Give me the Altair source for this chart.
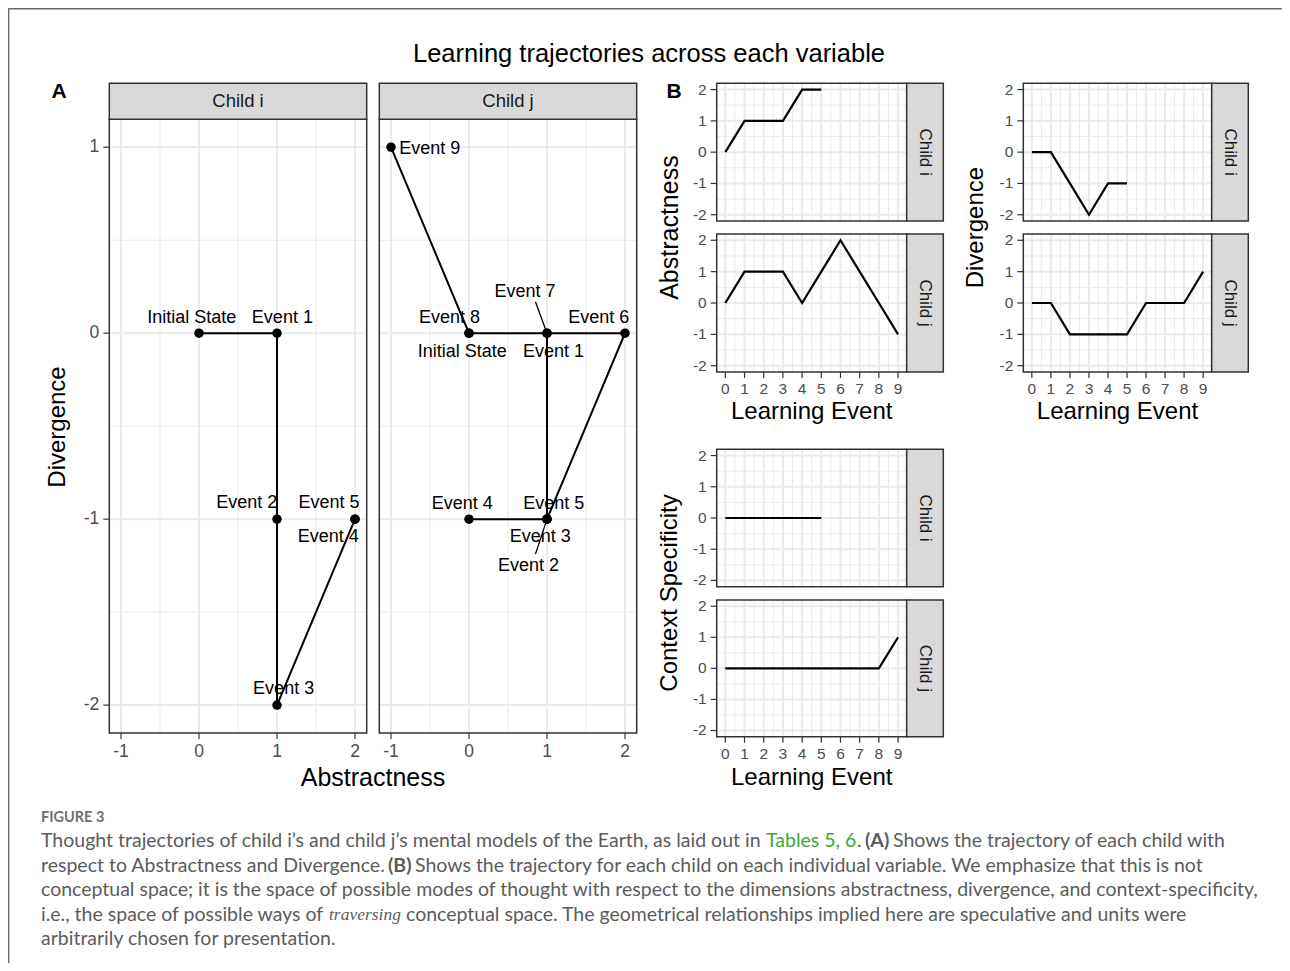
import altair as alt
import pandas as pd

# ------------------------------------------------------------------ data
events_i = ["Initial State", "Event 1", "Event 2", "Event 3", "Event 4", "Event 5"]
events_j = ["Initial State", "Event 1", "Event 2", "Event 3", "Event 4",
            "Event 5", "Event 6", "Event 7", "Event 8", "Event 9"]
steps_i = [0, 1, 2, 3, 4, 5]
steps_j = [0, 1, 2, 3, 4, 5, 6, 7, 8, 9]
abstractness_i = [0, 1, 1, 1, 2, 2]
divergence_i = [0, 0, -1, -2, -1, -1]
context_i = [0, 0, 0, 0, 0, 0]
abstractness_j = [0, 1, 1, 1, 0, 1, 2, 1, 0, -1]
divergence_j = [0, 0, -1, -1, -1, -1, 0, 0, 0, 1]
context_j = [0, 0, 0, 0, 0, 0, 0, 0, 0, 1]

# repelled label anchors (data units)
label_x_i = [-0.093, 1.069, 0.613, 1.085, 1.657, 1.666]
label_y_i = [0.080, 0.080, -0.911, -1.915, -1.098, -0.911]
label_x_j = [-0.087, 1.083, 0.762, 0.913, -0.086, 1.086, 1.664, 0.719, -0.249, -0.502]
label_y_j = [-0.099, -0.099, -1.250, -1.098, -0.916, -0.916, 0.084, 0.220, 0.084, 0.991]
# leader segments of child j (from the event point to its label)
leader_events = ["Event 2", "Event 7"]
leader_x_end = [0.852, 0.852]
leader_y_end = [-1.188, 0.169]

a_x_ticks = [-1, 0, 1, 2]
a_y_ticks = [-2, -1, 0, 1]
a_x_minor = [-0.5, 0.5, 1.5]
a_y_minor = [-1.5, -0.5, 0.5]
b_x_ticks = [0, 1, 2, 3, 4, 5, 6, 7, 8, 9]
b_y_ticks = [-2, -1, 0, 1, 2]
b_x_minor = [0.5, 1.5, 2.5, 3.5, 4.5, 5.5, 6.5, 7.5, 8.5]
b_y_minor = [-1.5, -0.5, 0.5, 1.5]

title_text = "Learning trajectories across each variable"
a_x_title = "Abstractness"
a_y_title = "Divergence"
b_x_title = "Learning Event"
b_y_titles = ["Abstractness", "Divergence", "Context Specificity"]
figure_label = "FIGURE 3"
caption_segments = [
    ["Thought trajectories of child i\u2019s and child j\u2019s mental models of the Earth, as laid out in",
     "Tables 5, 6", ".", "(A)", "Shows the trajectory of each child with"],
    ["respect to Abstractness and Divergence.", "(B)",
     "Shows the trajectory for each child on each individual variable. We emphasize that this is not"],
    ["conceptual space; it is the space of possible modes of thought with respect to the dimensions abstractness, divergence, and context-specificity,"],
    ["i.e., the space of possible ways of", "traversing",
     "conceptual space. The geometrical relationships implied here are speculative and units were"],
    ["arbitrarily chosen for presentation."],
]
caption_styles = [
    ["plain", "green", "plain", "bold", "plain"],
    ["plain", "bold", "plain"],
    ["plain"],
    ["plain", "italic", "plain"],
    ["plain"],
]

# ------------------------------------------------------------------ layout / style
W, H = 1274, 955
FONT = "Liberation Sans"
CAPFONT = "Lato"
GRID = "#EBEBEB"
BORDER = "#333333"
TICKC = "#333333"
LABC = "#4D4D4D"
STRIP = "#D9D9D9"
TICK = 6
LPAD = 4

A_XDOM = [-1.15, 2.15]
A_YDOM = [-2.15, 1.15]
A_YR = [725, 111.3]
A_STRIP_Y = [75.3, 111.3]
B_XDOM = [-0.45, 9.45]
B_YDOM = [-2.2, 2.2]

caption_x = [[33, 758, 849, 857, 885], [33, 380, 407], [33], [33, 321, 398], [33]]
caption_y = [833, 857.5, 882, 906.5, 931]


def xd(v, xs):
    return alt.XDatum(v, scale=xs, axis=None, type="quantitative")


def yd(v, ys):
    return alt.YDatum(v, scale=ys, axis=None, type="quantitative")


def grid_layers(xs, ys, xdom, ydom, xmaj, xmin, ymaj, ymin):
    out = []
    for vals, w in ((xmin, 1), (xmaj, 2)):
        out.append(alt.Chart(pd.DataFrame({"v": vals})).mark_rule(color=GRID, strokeWidth=w).encode(
            x=alt.X("v:Q", scale=xs, axis=None),
            y=yd(ydom[0], ys), y2=alt.Y2Datum(ydom[1])))
    for vals, w in ((ymin, 1), (ymaj, 2)):
        out.append(alt.Chart(pd.DataFrame({"v": vals})).mark_rule(color=GRID, strokeWidth=w).encode(
            y=alt.Y("v:Q", scale=ys, axis=None),
            x=xd(xdom[0], xs), x2=alt.X2Datum(xdom[1])))
    return out


def x_axis_layers(xs, ticks, bottom, fs):
    d = pd.DataFrame({"v": ticks, "lab": [str(t) for t in ticks]})
    return [
        alt.Chart(d).mark_rule(color=TICKC, strokeWidth=1.2).encode(
            x=alt.X("v:Q", scale=xs, axis=None),
            y=alt.value(bottom), y2=alt.value(bottom + TICK)),
        alt.Chart(d).mark_text(font=FONT, fontSize=fs, color=LABC, baseline="top").encode(
            x=alt.X("v:Q", scale=xs, axis=None),
            y=alt.value(bottom + TICK + LPAD), text="lab:N"),
    ]


def y_axis_layers(ys, ticks, left, fs):
    d = pd.DataFrame({"v": ticks, "lab": [str(t) for t in ticks]})
    return [
        alt.Chart(d).mark_rule(color=TICKC, strokeWidth=1.2).encode(
            y=alt.Y("v:Q", scale=ys, axis=None),
            x=alt.value(left - TICK), x2=alt.value(left)),
        alt.Chart(d).mark_text(font=FONT, fontSize=fs, color=LABC, align="right", baseline="middle").encode(
            y=alt.Y("v:Q", scale=ys, axis=None),
            x=alt.value(left - TICK - LPAD), text="lab:N"),
    ]


def border_layer(xs, ys, xdom, ydom):
    return alt.Chart(pd.DataFrame({"k": [0]})).mark_rect(
        fillOpacity=0, stroke=BORDER, strokeWidth=1.5).encode(
        x=xd(xdom[0], xs), x2=alt.X2Datum(xdom[1]),
        y=yd(ydom[0], ys), y2=alt.Y2Datum(ydom[1]))


def panel_a(child, events, steps, ab, dv, lx, ly, xr, show_y, leaders=None):
    xs = alt.Scale(domain=A_XDOM, range=xr, nice=False, zero=False)
    ys = alt.Scale(domain=A_YDOM, range=A_YR, nice=False, zero=False)
    traj = pd.DataFrame({"event": events, "step": steps, "abstractness": ab, "divergence": dv})
    labs = pd.DataFrame({"event": events, "lx": lx, "ly": ly})
    layers = grid_layers(xs, ys, A_XDOM, A_YDOM, a_x_ticks, a_x_minor, a_y_ticks, a_y_minor)
    layers.append(alt.Chart(traj).mark_line(color="black", strokeWidth=2).encode(
        x=alt.X("abstractness:Q", scale=xs, axis=None),
        y=alt.Y("divergence:Q", scale=ys, axis=None),
        order="step:Q"))
    layers.append(alt.Chart(traj).mark_circle(size=90, color="black", opacity=1).encode(
        x=alt.X("abstractness:Q", scale=xs, axis=None),
        y=alt.Y("divergence:Q", scale=ys, axis=None)))
    if leaders is not None:
        layers.append(alt.Chart(leaders).mark_rule(color="black", strokeWidth=1.3).encode(
            x=alt.X("abstractness:Q", scale=xs, axis=None),
            y=alt.Y("divergence:Q", scale=ys, axis=None),
            x2="xe:Q", y2="ye:Q"))
    layers.append(alt.Chart(labs).mark_text(font=FONT, fontSize=18, color="black").encode(
        x=alt.X("lx:Q", scale=xs, axis=None),
        y=alt.Y("ly:Q", scale=ys, axis=None),
        text="event:N"))
    layers.append(border_layer(xs, ys, A_XDOM, A_YDOM))
    layers += x_axis_layers(xs, a_x_ticks, A_YR[0], 17.5)
    if show_y:
        layers += y_axis_layers(ys, a_y_ticks, xr[0], 17.5)
    layers.append(alt.Chart(pd.DataFrame({"child": [child]})).mark_rect(
        fill=STRIP, stroke=BORDER, strokeWidth=1.5).encode(
        x=xd(A_XDOM[0], xs), x2=alt.X2Datum(A_XDOM[1]),
        y=alt.value(A_STRIP_Y[0]), y2=alt.value(A_STRIP_Y[1])))
    layers.append(alt.Chart(pd.DataFrame({"child": [child]})).mark_text(
        font=FONT, fontSize=18.5, color="#1A1A1A").encode(
        x=xd(0.5, xs),
        y=alt.value((A_STRIP_Y[0] + A_STRIP_Y[1]) / 2),
        text="child:N"))
    return alt.layer(*layers)


def panel_b(child, steps, vals, xr, yr, strip_x, show_x):
    xs = alt.Scale(domain=B_XDOM, range=xr, nice=False, zero=False)
    ys = alt.Scale(domain=B_YDOM, range=yr, nice=False, zero=False)
    d = pd.DataFrame({"step": steps, "value": vals})
    layers = grid_layers(xs, ys, B_XDOM, B_YDOM, b_x_ticks, b_x_minor, b_y_ticks, b_y_minor)
    layers.append(alt.Chart(d).mark_line(color="black", strokeWidth=2.2).encode(
        x=alt.X("step:Q", scale=xs, axis=None),
        y=alt.Y("value:Q", scale=ys, axis=None),
        order="step:Q"))
    layers.append(border_layer(xs, ys, B_XDOM, B_YDOM))
    layers += y_axis_layers(ys, b_y_ticks, xr[0], 15.5)
    if show_x:
        layers += x_axis_layers(xs, b_x_ticks, yr[0], 15.5)
    layers.append(alt.Chart(pd.DataFrame({"child": [child]})).mark_rect(
        fill=STRIP, stroke=BORDER, strokeWidth=1.5).encode(
        x=alt.value(strip_x[0]), x2=alt.value(strip_x[1]),
        y=yd(B_YDOM[0], ys), y2=alt.Y2Datum(B_YDOM[1])))
    layers.append(alt.Chart(pd.DataFrame({"child": [child]})).mark_text(
        font=FONT, fontSize=17, color="#1A1A1A", angle=90).encode(
        x=alt.value((strip_x[0] + strip_x[1]) / 2),
        y=yd(0, ys),
        text="child:N"))
    return alt.layer(*layers)


def text_layer(txt, x, y, **style):
    return alt.Chart(pd.DataFrame({"t": [txt]})).mark_text(**style).encode(
        x=alt.value(x), y=alt.value(y), text="t:N")


# leaders table
pos_j = dict(zip(events_j, zip(abstractness_j, divergence_j)))
leaders_df = pd.DataFrame({
    "event": leader_events,
    "abstractness": [pos_j[e][0] for e in leader_events],
    "divergence": [pos_j[e][1] for e in leader_events],
    "xe": leader_x_end, "ye": leader_y_end})

layers = []
# figure frame
layers.append(alt.Chart(pd.DataFrame({"k": [0]})).mark_rule(color="#6b6b6b", strokeWidth=1.4).encode(
    x=alt.value(0.7), y=alt.value(0), y2=alt.value(H)))
layers.append(alt.Chart(pd.DataFrame({"k": [0]})).mark_rule(color="#6b6b6b", strokeWidth=1.4).encode(
    x=alt.value(0), x2=alt.value(W), y=alt.value(0.7)))

layers.append(text_layer(title_text, 641, 46, font=FONT, fontSize=25.5, color="black"))
layers.append(text_layer("A", 51, 84, font=FONT, fontSize=21, fontWeight="bold", color="black"))
layers.append(text_layer("B", 666, 84, font=FONT, fontSize=21, fontWeight="bold", color="black"))

# panel A
layers.append(panel_a("Child i", events_i, steps_i, abstractness_i, divergence_i, label_x_i, label_y_i,
                      [101.3, 358.7], True))
layers.append(panel_a("Child j", events_j, steps_j, abstractness_j, divergence_j, label_x_j, label_y_j,
                      [371.3, 628.7], False, leaders=leaders_df))
TITLE_STYLE = dict(font=FONT, fontSize=24, color="black")
layers.append(text_layer(a_x_title, 365, 770, font=FONT, fontSize=25, color="black"))
layers.append(text_layer(a_y_title, 50, 419, angle=270, **TITLE_STYLE))

# panel B
XR_ABS = [708.7, 898.7]
XR_DIV = [1015.3, 1203.7]
ST_ABS = [898.7, 935.3]
ST_DIV = [1203.7, 1240.3]
YR_TOP_I = [213, 75.3]
YR_TOP_J = [364, 226]
YR_CTX_I = [578.7, 441.3]
YR_CTX_J = [728.7, 592]

layers.append(panel_b("Child i", steps_i, abstractness_i, XR_ABS, YR_TOP_I, ST_ABS, False))
layers.append(panel_b("Child j", steps_j, abstractness_j, XR_ABS, YR_TOP_J, ST_ABS, True))
layers.append(panel_b("Child i", steps_i, divergence_i, XR_DIV, YR_TOP_I, ST_DIV, False))
layers.append(panel_b("Child j", steps_j, divergence_j, XR_DIV, YR_TOP_J, ST_DIV, True))
layers.append(panel_b("Child i", steps_i, context_i, XR_ABS, YR_CTX_I, ST_ABS, False))
layers.append(panel_b("Child j", steps_j, context_j, XR_ABS, YR_CTX_J, ST_ABS, True))
layers.append(text_layer(b_y_titles[0], 662, 219.6, angle=270, font=FONT, fontSize=25, color="black"))
layers.append(text_layer(b_y_titles[1], 968, 219.6, angle=270, **TITLE_STYLE))
layers.append(text_layer(b_y_titles[2], 662, 585, angle=270, **TITLE_STYLE))
layers.append(text_layer(b_x_title, 803.7, 404, **TITLE_STYLE))
layers.append(text_layer(b_x_title, 1109.5, 404, **TITLE_STYLE))
layers.append(text_layer(b_x_title, 803.7, 770, **TITLE_STYLE))

# caption
layers.append(text_layer(figure_label, 33, 810, font=CAPFONT, fontSize=14.5, fontWeight="bold",
                         color="#707070", align="left"))
style_map = {
    "plain": dict(font=CAPFONT, fontSize=19.5, color="#5c5c5c"),
    "bold": dict(font=CAPFONT, fontSize=19.5, color="#5c5c5c", fontWeight="bold"),
    "green": dict(font=CAPFONT, fontSize=19.5, color="#3aaa35"),
    "italic": dict(font="Liberation Serif", fontSize=17.5, color="#5c5c5c", fontStyle="italic"),
}
for segs, sty, xs_, y in zip(caption_segments, caption_styles, caption_x, caption_y):
    for s, st, x in zip(segs, sty, xs_):
        layers.append(text_layer(s, x, y, align="left", **style_map[st]))

chart = alt.layer(*layers).resolve_scale(x="independent", y="independent").properties(
    width=W, height=H, padding=0, background="white",
    autosize=alt.AutoSizeParams(type="none"),
).configure_view(strokeWidth=0)

chart.save("out.html", embed_options={"renderer": "svg", "actions": False})
